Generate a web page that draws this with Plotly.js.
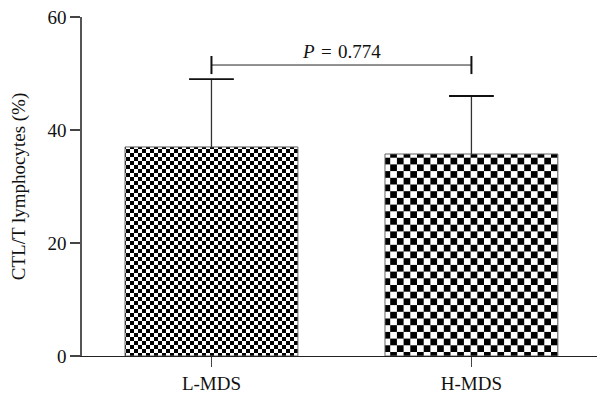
<!DOCTYPE html>
<html>
<head>
<meta charset="utf-8">
<script src="https://cdn.plot.ly/plotly-3.0.1.min.js"></script>
<style>html,body{margin:0;padding:0;background:#fff;}</style>
</head>
<body>
<div id="chart" style="width:597px;height:395px;"></div>
<script>
// ---- data ----
var categories = ['L-MDS', 'H-MDS'];
var means = [37.0, 35.75];
var sdUpper = [12.0, 10.27];
var yTicks = [0, 20, 40, 60];
var pLabel = '<i>P</i>\u2004=\u20040.774';
var bracketLevel = 51.5;

// ---- styles ----
var FONT = 'Liberation Serif, Times New Roman, serif';
var FS = 19;
var checkSizes = [8, 13.4];

var capTops = means.map(function(m, i){ return m + sdUpper[i]; });

var bars = {
  type: 'bar',
  x: categories,
  y: means,
  width: 0.665,
  marker: {
    color: '#ffffff',
    line: {color: '#666666', width: 1},
    pattern: {shape: '+', size: checkSizes, fgcolor: '#000000', bgcolor: '#ffffff', solidity: 0.5}
  },
  error_y: {type: 'data', symmetric: false, array: sdUpper, arrayminus: [0, 0], width: 0, color: '#333333', thickness: 1.3},
  hoverinfo: 'skip',
  showlegend: false
};

var caps = {
  type: 'scatter',
  mode: 'markers',
  x: categories,
  y: capTops,
  marker: {symbol: 'line-ew', size: 32, line: {color: '#111111', width: 1.8}, color: '#111111'},
  hoverinfo: 'skip',
  showlegend: false,
  cliponaxis: false
};

var layout = {
  width: 597, height: 395,
  margin: {l: 82, r: 0, t: 17, b: 39},
  paper_bgcolor: '#ffffff', plot_bgcolor: '#ffffff',
  font: {family: FONT, size: FS, color: '#111111'},
  showlegend: false,
  xaxis: {
    type: 'category',
    range: [-0.498, 1.483],
    showline: true, linecolor: '#222222', linewidth: 1.3,
    ticks: 'outside', ticklen: 10, tickwidth: 1.3, tickcolor: '#444444',
    showgrid: false, zeroline: false,
    tickfont: {family: FONT, size: FS, color: '#111111'}
  },
  yaxis: {
    range: [0, 60],
    tickvals: yTicks,
    showline: true, linecolor: '#555555', linewidth: 1.6,
    ticks: 'outside', ticklen: 10, tickwidth: 1.5, tickcolor: '#444444',
    showgrid: false, zeroline: false,
    tickfont: {family: FONT, size: FS, color: '#111111'},
    title: {text: 'CTL/T lymphocytes (%)', font: {family: FONT, size: FS, color: '#111111'}, standoff: 17}
  },
  shapes: [
    {type: 'line', xref: 'x', yref: 'y', x0: 0, x1: 1, y0: bracketLevel, y1: bracketLevel, line: {color: '#222222', width: 1}},
    {type: 'line', xref: 'x', yref: 'y', x0: 0, x1: 0, y0: bracketLevel - 1.6, y1: bracketLevel + 1.6, line: {color: '#111111', width: 2}},
    {type: 'line', xref: 'x', yref: 'y', x0: 1, x1: 1, y0: bracketLevel - 1.6, y1: bracketLevel + 1.6, line: {color: '#111111', width: 2}}
  ],
  annotations: [
    {xref: 'x', yref: 'y', x: 0.5, y: bracketLevel + 0.2, yanchor: 'bottom', xanchor: 'center', text: pLabel, showarrow: false, font: {family: FONT, size: FS, color: '#111111'}}
  ]
};

var gd = document.getElementById('chart');
Plotly.newPlot(gd, [bars, caps], layout, {staticPlot: true, displayModeBar: false}).then(function(){
  var NS = 'http://www.w3.org/2000/svg';
  var paths = gd.querySelectorAll('.barlayer .point path');
  paths.forEach(function(p){
    var st = (p.getAttribute('style') || '') + ' ' + (p.style.fill || '') + ' ' + (p.getAttribute('fill') || '');
    var m = /url\(\s*["']?#([^"')\s]+)["']?\s*\)/.exec(st);
    if(!m) return;
    var pat = document.getElementById(m[1]);
    if(!pat) return;
    var s = parseFloat(pat.getAttribute('width'));
    while(pat.firstChild) pat.removeChild(pat.firstChild);
    pat.removeAttribute('patternTransform');
    function r(x, y, w, h, c){
      var e = document.createElementNS(NS, 'rect');
      e.setAttribute('x', x); e.setAttribute('y', y);
      e.setAttribute('width', w); e.setAttribute('height', h);
      e.setAttribute('fill', c);
      pat.appendChild(e);
    }
    r(0, 0, s, s, '#ffffff');
    r(0, 0, s/2, s/2, '#000000');
    r(s/2, s/2, s/2, s/2, '#000000');
  });
});
</script>
</body>
</html>
